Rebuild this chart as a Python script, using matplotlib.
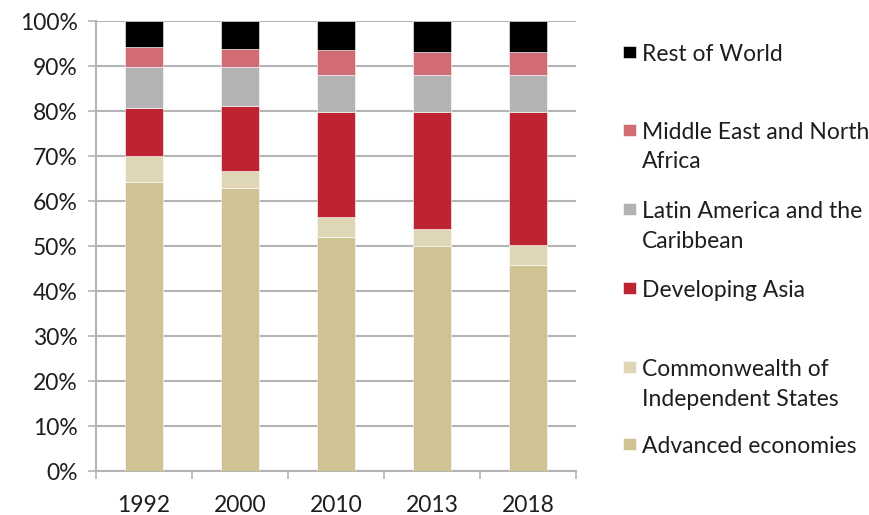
import numpy as np
import matplotlib
matplotlib.use("Agg")
import matplotlib.pyplot as plt
from matplotlib.patches import Rectangle

years = ["1992", "2000", "2010", "2013", "2018"]

# shares (percent) per region, bottom to top
advanced = [64.2, 62.9, 52.1, 50.0, 45.9]
cis = [5.8, 3.7, 4.3, 3.7, 4.4]
dev_asia = [10.7, 14.5, 23.4, 26.1, 29.5]
latin = [9.1, 8.7, 8.3, 8.3, 8.3]
mena = [4.4, 4.0, 5.4, 5.1, 5.1]
rest = [5.8, 6.2, 6.5, 6.8, 6.8]

series = [
    ("Advanced economies", advanced, "#cfc293"),
    ("Commonwealth of\nIndependent States", cis, "#ded6b5"),
    ("Developing Asia", dev_asia, "#be2332"),
    ("Latin America and the\nCaribbean", latin, "#b3b3b3"),
    ("Middle East and North\nAfrica", mena, "#d16b74"),
    ("Rest of World", rest, "#000000"),
]

plt.rcParams['font.family'] = ['Lato', 'DejaVu Sans']
text_color = "#1e1e1e"
grid_color = "#b4b4b4"

fig = plt.figure(figsize=(8.69, 5.15), dpi=100)
ax = fig.add_axes([0.1105, 0.0854, 0.5525, 0.8736])

x = np.arange(len(years))
bottom = np.zeros(len(years))
for name, vals, color in series:
    ax.bar(x, vals, width=0.39, bottom=bottom, color=color,
           edgecolor="white", linewidth=0.4, zorder=3)
    bottom += np.array(vals)

ax.set_xlim(-0.5, 4.5)
ax.set_ylim(0, 100)
ax.set_yticks(np.arange(0, 101, 10))
ax.set_yticklabels([f"{v}%" for v in range(0, 101, 10)])
ax.yaxis.grid(True, color=grid_color, linewidth=1.5, zorder=0)

ax.set_xticks(x)
ax.set_xticklabels(years)
ax.set_xticks(np.arange(-0.5, 4.6, 1), minor=True)
ax.tick_params(axis="x", which="major", length=0, pad=17,
               labelsize=16.5, labelcolor=text_color)
ax.tick_params(axis="x", which="minor", length=6, width=1.2,
               color=grid_color, direction="out")
ax.tick_params(axis="y", length=6, width=1.2, color=grid_color,
               labelsize=16.5, labelcolor=text_color, pad=7)

for s in ["top", "right"]:
    ax.spines[s].set_visible(False)
for s in ["left", "bottom"]:
    ax.spines[s].set_color(grid_color)
    ax.spines[s].set_linewidth(1.5)

# legend drawn by hand to follow the uneven spacing of the original
W, H = 869, 515
legend_y = [445, 368, 289, 210, 131, 53]
for (name, vals, color), ypx in zip(series, legend_y):
    fig.patches.append(Rectangle(((623) / W, 1 - (ypx + 5) / H), 13 / W, 12 / H,
                                 transform=fig.transFigure, facecolor=color,
                                 edgecolor="white", linewidth=0.4))
    fig.text(642 / W, 1 - (ypx - 9) / H, name, fontsize=16.5, color=text_color,
             va="top", ha="left", linespacing=1.5)

fig.savefig("out.png", dpi=100)
